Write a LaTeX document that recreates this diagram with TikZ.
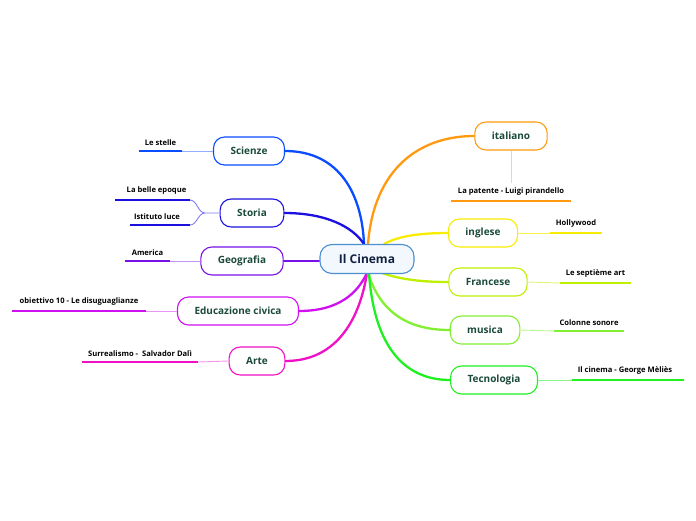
\documentclass[tikz,border=0pt]{standalone}
\usepackage{fontspec}
\setmainfont{Open Sans}
\usetikzlibrary{backgrounds}
\definecolor{cinemaline}{HTML}{4A8FD0}
\definecolor{cinemafill}{HTML}{F2F8FE}
\definecolor{cinematext}{HTML}{12203F}
\definecolor{topictext}{HTML}{1B4A3A}
\definecolor{cscienze}{HTML}{0A4CFF}
\definecolor{cstoria}{HTML}{1C10E0}
\definecolor{cgeografia}{HTML}{7A10E8}
\definecolor{ceducazione}{HTML}{D010F0}
\definecolor{carte}{HTML}{F010C8}
\definecolor{citaliano}{HTML}{FF9A10}
\definecolor{cinglese}{HTML}{F8EC00}
\definecolor{cfrancese}{HTML}{BEF000}
\definecolor{cmusica}{HTML}{80F030}
\definecolor{ctecnologia}{HTML}{20F020}

\begin{document}
\begin{tikzpicture}[x=1pt, y=-1pt]
		\tikzstyle{topic}=[draw, rounded corners=11pt, fill=white, line width=1.1pt, minimum height=28pt, inner xsep=17pt, text=topictext, font=\fontsize{10}{12}\selectfont\bfseries]
		\tikzstyle{branch}=[line width=2.3pt, line cap=round]
		\tikzstyle{stem}=[line width=0.9pt]
		\tikzstyle{twig}=[line width=2pt]
		\tikzstyle{leaf}=[above=2.5pt, inner sep=2pt, text=black, font=\fontsize{7.6}{9}\selectfont\bfseries]
		\useasboundingbox (0,0) rectangle (696,520);
		
		% central node
		\node[draw=cinemaline, fill=cinemafill, rounded corners=12pt, line width=1.1pt, minimum height=29pt, inner xsep=19pt, text=cinematext, font=\fontsize{12}{14}\selectfont\bfseries](cin) at (367,259) {Il Cinema};
		\coordinate (cin-top) at (364,244);
		\coordinate (cin-bot) at (367,273);
		
		% topics on the left
		\node[topic, draw=cscienze](sci) at (249,151) {Scienze};
		\node[topic, draw=cstoria](sto) at (252,213) {Storia};
		\node[topic, draw=cgeografia](geo) at (242,261) {Geografia};
		\node[topic, draw=ceducazione](edu) at (238,311) {Educazione civica};
		\node[topic, draw=carte](art) at (257,361) {Arte};
		
		% topics on the right
		\node[topic, draw=citaliano](ita) at (511,136) {italiano};
		\node[topic, draw=cinglese](ing) at (483,233) {inglese};
		\node[topic, draw=cfrancese](fra) at (488,282) {Francese};
		\node[topic, draw=cmusica](mus) at (485,330) {musica};
		\node[topic, draw=ctecnologia](tec) at (494,380) {Tecnologia};
		
		% branches, behind the nodes
		\begin{scope}[on background layer]
		\draw[branch, cscienze] (sci.east) .. controls (340,151) and (362,195) .. (cin-top);
		\draw[branch, cstoria] (sto.east) .. controls (325,213) and (352,226) .. (cin-top);
		\draw[branch, cgeografia] (geo.east) -- (cin.west |- geo.east);
		\draw[branch, ceducazione] (edu.east) .. controls (340,311) and (358,292) .. (cin-bot);
		\draw[branch, carte] (art.east) .. controls (345,361) and (362,305) .. (cin-bot);
		\draw[branch, citaliano] (368,244) .. controls (374,168) and (420,136) .. (ita.west);
		\draw[branch, cinglese] (384,244) .. controls (400,235) and (425,233) .. (ing.west);
		\draw[branch, cfrancese] (382,273) .. controls (405,281) and (430,282) .. (fra.west);
		\draw[branch, cmusica] (368,273) .. controls (382,318) and (415,330) .. (mus.west);
		\draw[branch, ctecnologia] (369,273) .. controls (375,360) and (415,380) .. (tec.west);
		\end{scope}
		
		% leaves, left side
		\coordinate (stelle-a) at (182,151);  \coordinate (stelle-b) at (139,151);
		\draw[stem, cscienze!45] (sci.west) -- (stelle-a);
		\draw[twig, cscienze] (stelle-a) -- node[leaf](stelle){Le stelle} (stelle-b);
		
		\coordinate (storia-fork) at (205,213);
		\coordinate (belle-a) at (190,200);  \coordinate (belle-b) at (115,200);
		\coordinate (luce-a) at (190,225);  \coordinate (luce-b) at (130,225);
		\draw[stem, cstoria!55] (sto.west) -- (storia-fork)
		(storia-fork) .. controls (198,213) and (197,200) .. (belle-a)
		(storia-fork) .. controls (198,213) and (197,225) .. (luce-a);
		\draw[twig, cstoria] (belle-a) -- node[leaf, xshift=4pt](belle){La belle epoque} (belle-b);
		\draw[twig, cstoria] (luce-a) -- node[leaf, xshift=-3pt](luce){Istituto luce} (luce-b);
		
		\coordinate (america-a) at (170,261);  \coordinate (america-b) at (125,261);
		\draw[stem, cgeografia!45] (geo.west) -- (america-a);
		\draw[twig, cgeografia] (america-a) -- node[leaf](america){America} (america-b);
		
		\coordinate (obiettivo-a) at (146,311);  \coordinate (obiettivo-b) at (12,311);
		\draw[stem, ceducazione!45] (edu.west) -- (obiettivo-a);
		\draw[twig, ceducazione] (obiettivo-a) -- node[leaf](obiettivo){obiettivo 10 - Le disuguaglianze} (obiettivo-b);
		
		\coordinate (dali-a) at (198,362);  \coordinate (dali-b) at (82,362);
		\draw[stem, carte!45] (art.west) -- (dali-a);
		\draw[twig, carte] (dali-a) -- node[leaf](dali){Surrealismo -\ \ Salvador Dalì} (dali-b);
		
		% leaves, right side
		\coordinate (patente-top) at (511,183);
		\coordinate (patente-a) at (451,201);  \coordinate (patente-b) at (571,201);
		\draw[stem, citaliano!45] (ita.south) -- (patente-top);
		\draw[twig, citaliano] (patente-a) -- node[leaf](patente){La patente - Luigi pirandello} (patente-b);
		
		\coordinate (hollywood-a) at (550,233);  \coordinate (hollywood-b) at (602,233);
		\draw[stem, cinglese!70] (ing.east) -- (hollywood-a);
		\draw[twig, cinglese] (hollywood-a) -- node[leaf](hollywood){Hollywood} (hollywood-b);
		
		\coordinate (septieme-a) at (560,283);  \coordinate (septieme-b) at (631,283);
		\draw[stem, cfrancese!55] (fra.east) -- (septieme-a);
		\draw[twig, cfrancese] (septieme-a) -- node[leaf](septieme){Le septième art} (septieme-b);
		
		\coordinate (colonne-a) at (554,331);  \coordinate (colonne-b) at (624,331);
		\draw[stem, cmusica!55] (mus.east) -- (colonne-a);
		\draw[twig, cmusica] (colonne-a) -- node[leaf](colonne){Colonne sonore} (colonne-b);
		
		\coordinate (melies-a) at (572,380);  \coordinate (melies-b) at (684,380);
		\draw[stem, ctecnologia!55] (tec.east) -- (melies-a);
		\draw[twig, ctecnologia] (melies-a) -- node[leaf, xshift=-3pt](melies){Il cinema - George Mèliès} (melies-b);
\end{tikzpicture}
\end{document}
